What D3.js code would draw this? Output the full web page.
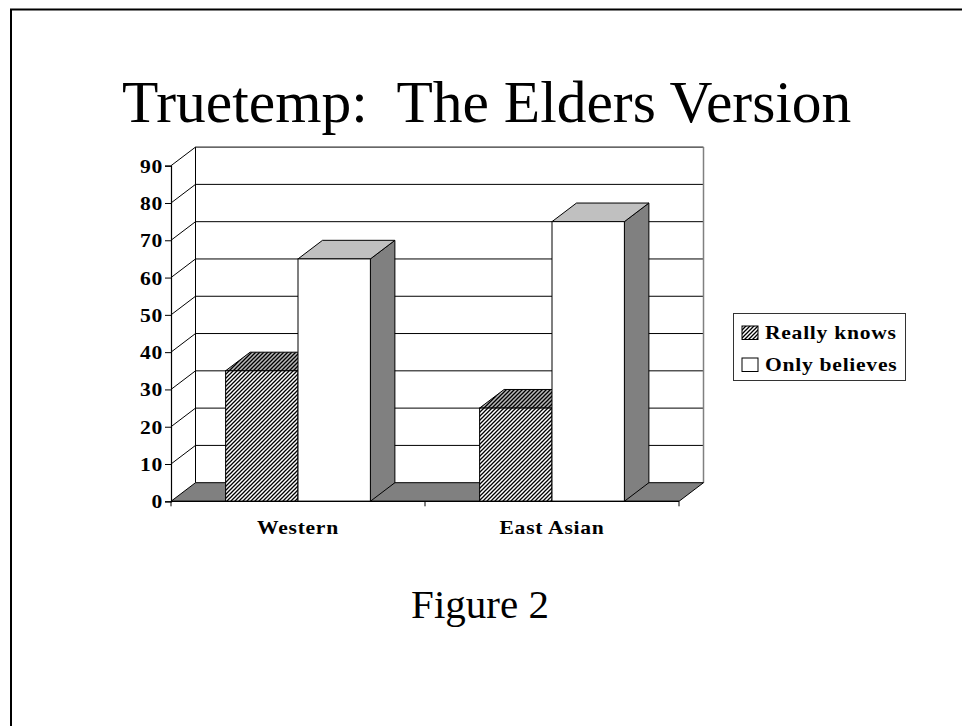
<!DOCTYPE html>
<html>
<head>
<meta charset="utf-8">
<script src="https://cdn.jsdelivr.net/npm/d3@7"></script>
<style>
  body { margin: 0; background: #fff; }
  svg { display: block; }
  .lbl { font-family: "Liberation Serif", "Times New Roman", serif; font-weight: bold; fill: #000; font-size: 18px; letter-spacing: 0.6px; }
</style>
</head>
<body>
<script>
var categories = ["Western", "East Asian"];
var series = ["Really knows", "Only believes"];
var reallyKnows = [35, 25];
var onlyBelieves = [65, 75];
var yTicks = [0, 10, 20, 30, 40, 50, 60, 70, 80, 90];

var width = 962, height = 726;
var stretch = 1.2; // labels in the original are drawn wide
var svg = d3.select("body").append("svg").attr("width", width).attr("height", height);

// hatch patterns
var defs = svg.append("defs");
function hatch(id, bg) {
  var p = defs.append("pattern").attr("id", id)
    .attr("patternUnits", "userSpaceOnUse").attr("width", 4).attr("height", 4);
  p.append("rect").attr("width", 4).attr("height", 4).attr("fill", bg);
  p.append("path").attr("d", "M-1,1 l2,-2 M0,4 l4,-4 M3,5 l2,-2")
    .attr("stroke", "#000").attr("stroke-width", 1.3);
}
hatch("hatchFront", "#fff");
hatch("hatchTop", "#b8b8b8");

// slide frame
svg.append("path").attr("d", "M11,740 V9.5 H980")
  .attr("fill", "none").attr("stroke", "#000").attr("stroke-width", 2);

// title
svg.append("text").attr("x", 122).attr("y", 122)
  .style("font-family", "'Liberation Serif', 'Times New Roman', serif")
  .style("white-space", "pre")
  .style("font-size", "59.5px").text("Truetemp:  The Elders Version");

svg.append("text").attr("x", 480).attr("y", 618).attr("text-anchor", "middle")
  .style("font-family", "'Liberation Serif', 'Times New Roman', serif")
  .style("font-size", "41px").text("Figure 2");

// scales
var x0 = 171, x1 = 679;
var dx = 24.5, dy = -18.6;
var y = d3.scaleLinear().domain([0, 90]).range([501.3, 165.7]);
var x = d3.scaleBand().domain(categories).range([x0, x1]).paddingInner(0.43).paddingOuter(0.215);
var xs = d3.scaleBand().domain(series).range([0, x.bandwidth()]);

var line = function(pts) { return "M" + pts.map(function(p) { return p.join(","); }).join("L"); };

// back wall gridlines
var grid = svg.append("g");
yTicks.forEach(function(v) {
  if (v === 0) return;
  grid.append("line")
    .attr("x1", x0 + dx).attr("x2", x1 + dx)
    .attr("y1", y(v) + dy).attr("y2", y(v) + dy)
    .attr("stroke", "#000").attr("stroke-width", 1);
  grid.append("line")
    .attr("x1", x0).attr("x2", x0 + dx)
    .attr("y1", y(v)).attr("y2", y(v) + dy)
    .attr("stroke", "#000").attr("stroke-width", 1);
});
grid.append("line").attr("x1", x0 + dx).attr("x2", x0 + dx)
  .attr("y1", y(0) + dy).attr("y2", y(90) + dy).attr("stroke", "#000");
grid.append("line").attr("x1", x1 + dx).attr("x2", x1 + dx)
  .attr("y1", y(0) + dy).attr("y2", y(90) + dy).attr("stroke", "#808080").attr("stroke-width", 1.5);

// floor
svg.append("path")
  .attr("d", line([[x0, y(0)], [x1, y(0)], [x1 + dx, y(0) + dy], [x0 + dx, y(0) + dy]]) + "Z")
  .attr("fill", "#808080").attr("stroke", "#000").attr("stroke-width", 1);

// bars
var rows = [];
categories.forEach(function(c, i) {
  rows.push({ cat: c, s: series[0], v: reallyKnows[i], front: "url(#hatchFront)", top: "url(#hatchTop)" });
  rows.push({ cat: c, s: series[1], v: onlyBelieves[i], front: "#fff", top: "#c0c0c0" });
});

var bars = svg.append("g").selectAll("g").data(rows).enter().append("g");
bars.each(function(d) {
  var g = d3.select(this);
  var l = x(d.cat) + xs(d.s), r = l + xs.bandwidth();
  var t = y(d.v), b = y(0);
  g.append("path").attr("d", line([[r, b], [r + dx, b + dy], [r + dx, t + dy], [r, t]]) + "Z")
    .attr("fill", "#808080").attr("stroke", "#000").attr("stroke-width", 1);
  g.append("path").attr("d", line([[l, t], [l + dx, t + dy], [r + dx, t + dy], [r, t]]) + "Z")
    .attr("fill", d.top).attr("stroke", "#000").attr("stroke-width", 1);
  g.append("rect").attr("x", l).attr("y", t).attr("width", r - l).attr("height", b - t)
    .attr("fill", d.front).attr("stroke", "#000").attr("stroke-width", 1);
});

// y axis
var yAxis = svg.append("g").attr("transform", "translate(" + x0 + ",0)")
  .call(d3.axisLeft(y).tickValues(yTicks).tickSize(6).tickPadding(8));
yAxis.select(".domain").attr("stroke", "#000").attr("stroke-width", 1.2);
yAxis.selectAll("text").attr("class", "lbl")
  .attr("x", -8 / stretch)
  .attr("transform", "scale(" + stretch + ",1)")
  .attr("dy", "0.36em");

// x axis
var xa = svg.append("g");
xa.append("line").attr("x1", x0).attr("x2", x1).attr("y1", y(0)).attr("y2", y(0))
  .attr("stroke", "#000").attr("stroke-width", 1.2);
var bounds = [x0].concat(categories.map(function(c) { return x(c) + x.bandwidth() + x.step() * x.paddingInner() / 2; }));
bounds[bounds.length - 1] = x1;
bounds.forEach(function(b) {
  xa.append("line").attr("x1", b).attr("x2", b).attr("y1", y(0)).attr("y2", y(0) + 5)
    .attr("stroke", "#000");
});
xa.selectAll("g.cat").data(categories).enter().append("g")
  .attr("class", "cat")
  .attr("transform", function(c) { return "translate(" + (x(c) + x.bandwidth() / 2) + ",534)"; })
  .append("text").attr("class", "lbl").attr("text-anchor", "middle")
  .attr("transform", "scale(" + stretch + ",1)")
  .text(function(c) { return c; });

// legend
var lg = svg.append("g");
lg.append("rect").attr("x", 733.5).attr("y", 313.5).attr("width", 172).attr("height", 67)
  .attr("fill", "#fff").attr("stroke", "#333").attr("stroke-width", 1);
series.forEach(function(s, i) {
  var yy = 326 + i * 32;
  lg.append("rect").attr("x", 742).attr("y", yy).attr("width", 16).attr("height", 13.5)
    .attr("fill", i === 0 ? "url(#hatchFront)" : "#fff").attr("stroke", "#000");
  lg.append("g").attr("transform", "translate(765," + (yy + 13) + ")")
    .append("text").attr("class", "lbl")
    .attr("transform", "scale(" + stretch + ",1)").text(s);
});
</script>
</body>
</html>
